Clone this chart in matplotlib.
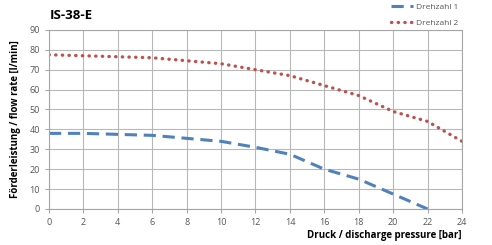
import matplotlib
matplotlib.use('Agg')
import matplotlib.pyplot as plt

plt.rcParams['font.family'] = ['Open Sans', 'DejaVu Sans']

# data
pressure = [0, 2, 4, 6, 8, 10, 12, 14, 16, 18, 20, 22, 24]
drehzahl1 = [38, 38, 37.5, 37, 35.5, 34, 31, 27.5, 20, 15, 7.5, 0]
drehzahl2 = [77.5, 77, 76.5, 76, 74.5, 73, 70, 67, 62, 57, 49, 44, 34]

fig = plt.figure(figsize=(4.92, 2.45), dpi=100)
ax = fig.add_axes([0.0996, 0.147, 0.8394, 0.731])

ax.plot(pressure[:len(drehzahl1)], drehzahl1, color='#4F81BD', lw=2.2,
        dashes=(4, 2.2), label='Drehzahl 1')
ax.plot(pressure, drehzahl2, color='#C0504D', lw=2.4,
        linestyle=(0, (0.1, 1.9)), dash_capstyle='round', label='Drehzahl 2')

ax.set_xlim(0, 24)
ax.set_ylim(0, 90)
ax.set_xticks(range(0, 25, 2))
ax.set_yticks(range(0, 91, 10))
ax.grid(True, color='#B8B8B8', lw=0.8)
ax.set_axisbelow(True)
for s in ax.spines.values():
    s.set_color('#A6A6A6')
ax.tick_params(colors='#A6A6A6', labelsize=6.5, length=3, labelcolor='#555555')

ax.set_xlabel('Druck / discharge pressure [bar]', fontsize=7, fontweight='bold',
              loc='right', labelpad=2)
ax.set_ylabel('Förderleistung / flow rate [l/min]', fontsize=7, fontweight='bold',
              labelpad=6)
fig.text(0.102, 0.935, 'IS-38-E', fontsize=9.5, fontweight='bold', va='center')

ax.legend(loc='lower right', bbox_to_anchor=(1.0, 1.0), frameon=False,
          fontsize=6, handlelength=2.6, labelspacing=0.9, borderaxespad=0,
          handletextpad=0.4, labelcolor='#555555')

fig.savefig('out.png', dpi=100)
